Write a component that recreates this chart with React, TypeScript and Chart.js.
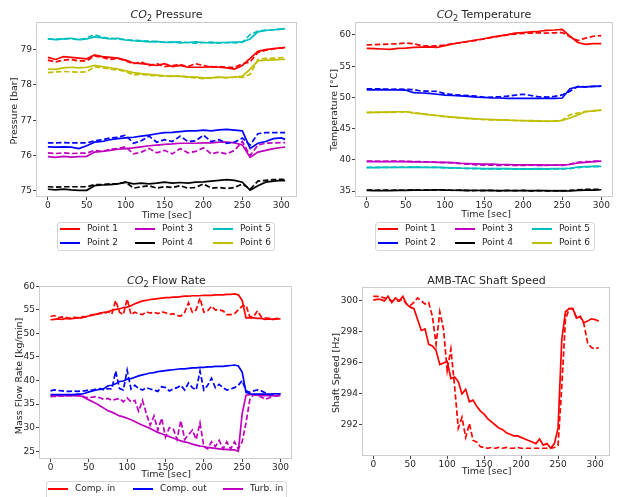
import React, { useEffect, useRef } from "react";
import { Chart, registerables } from "chart.js";
Chart.register(...registerables);

const FONT = "'DejaVu Sans', sans-serif";
const TEXT = "#262626";
const RED = "#ff0000";
const BLUE = "#0000ff";
const MAG = "#bf00bf";
const BLACK = "#000000";
const CYAN = "#00bfbf";
const YEL = "#bfbf00";

// ---------- shared ticks ----------
const timeTicks = [0, 50, 100, 150, 200, 250, 300];
const pressureTicks = [75, 76, 77, 78, 79];
const tempTicks = [35, 40, 45, 50, 55, 60];
const flowTicks = [25, 30, 35, 40, 45, 50, 55, 60];
const speedTicks = [292, 294, 296, 298, 300];

// ---------- CO2 Pressure [bar] ----------
const pressureTime = [0, 10, 20, 30, 40, 50, 60, 70, 80, 90, 100, 110, 120, 130, 140, 150, 160, 170, 180, 190, 200, 210, 220, 230, 240, 250, 260, 270, 280, 290, 300, 305];
const pP1s = [78.78, 78.72, 78.8, 78.78, 78.76, 78.74, 78.85, 78.8, 78.78, 78.76, 78.7, 78.62, 78.6, 78.58, 78.55, 78.6, 78.52, 78.55, 78.5, 78.5, 78.5, 78.52, 78.5, 78.48, 78.45, 78.55, 78.75, 78.95, 79.0, 79.03, 79.05, 79.06];
const pP1d = [78.7, 78.65, 78.7, 78.72, 78.68, 78.68, 78.82, 78.78, 78.72, 78.75, 78.68, 78.6, 78.65, 78.55, 78.6, 78.52, 78.55, 78.58, 78.52, 78.6, 78.55, 78.5, 78.52, 78.5, 78.5, 78.6, 78.65, 78.92, 78.98, 79.02, 79.05, 79.05];
const pP2s = [76.25, 76.24, 76.25, 76.24, 76.2, 76.28, 76.38, 76.4, 76.45, 76.48, 76.5, 76.52, 76.55, 76.58, 76.62, 76.65, 76.66, 76.68, 76.7, 76.7, 76.72, 76.7, 76.73, 76.74, 76.72, 76.7, 76.2, 76.35, 76.4, 76.48, 76.5, 76.46];
const pP2d = [76.36, 76.36, 76.37, 76.36, 76.36, 76.36, 76.42, 76.45, 76.5, 76.52, 76.58, 76.35, 76.42, 76.55, 76.38, 76.45, 76.4, 76.55, 76.4, 76.42, 76.58, 76.4, 76.45, 76.35, 76.38, 76.5, 76.3, 76.62, 76.65, 76.65, 76.65, 76.65];
const pP3s = [75.97, 75.95, 75.98, 75.96, 75.97, 75.98, 76.1, 76.12, 76.15, 76.18, 76.2, 76.22, 76.25, 76.28, 76.3, 76.32, 76.33, 76.35, 76.35, 76.35, 76.36, 76.36, 76.38, 76.38, 76.36, 76.3, 75.95, 76.1, 76.15, 76.2, 76.23, 76.24];
const pP3d = [76.08, 76.06, 76.08, 76.06, 76.07, 76.07, 76.15, 76.12, 76.18, 76.2, 76.25, 76.05, 76.1, 76.2, 76.08, 76.15, 76.05, 76.2, 76.08, 76.12, 76.22, 76.05, 76.1, 76.05, 76.15, 76.4, 76.0, 76.3, 76.35, 76.36, 76.37, 76.37];
const pP4s = [75.05, 75.03, 75.05, 75.03, 75.02, 75.02, 75.15, 75.17, 75.18, 75.2, 75.25, 75.2, 75.22, 75.2, 75.22, 75.25, 75.22, 75.24, 75.22, 75.25, 75.26, 75.28, 75.3, 75.32, 75.3, 75.25, 75.02, 75.15, 75.25, 75.28, 75.3, 75.29];
const pP4d = [75.12, 75.11, 75.12, 75.12, 75.12, 75.12, 75.18, 75.18, 75.2, 75.2, 75.25, 75.08, 75.12, 75.15, 75.08, 75.12, 75.1, 75.15, 75.08, 75.1, 75.2, 75.08, 75.1, 75.07, 75.1, 75.2, 75.05, 75.28, 75.3, 75.32, 75.33, 75.32];
const pP5s = [79.3, 79.28, 79.3, 79.32, 79.28, 79.3, 79.36, 79.33, 79.3, 79.32, 79.27, 79.25, 79.24, 79.22, 79.23, 79.2, 79.22, 79.19, 79.2, 79.22, 79.2, 79.19, 79.2, 79.2, 79.21, 79.22, 79.3, 79.5, 79.54, 79.56, 79.58, 79.59];
const pP5d = [79.3, 79.29, 79.3, 79.31, 79.27, 79.33, 79.42, 79.35, 79.32, 79.3, 79.28, 79.26, 79.25, 79.24, 79.22, 79.21, 79.2, 79.22, 79.2, 79.18, 79.2, 79.21, 79.18, 79.2, 79.19, 79.21, 79.42, 79.52, 79.55, 79.56, 79.58, 79.58];
const pP6s = [78.45, 78.44, 78.48, 78.5, 78.48, 78.5, 78.55, 78.52, 78.48, 78.45, 78.4, 78.35, 78.32, 78.3, 78.28, 78.26, 78.25, 78.24, 78.23, 78.22, 78.2, 78.2, 78.22, 78.21, 78.22, 78.25, 78.45, 78.68, 78.7, 78.71, 78.72, 78.72];
const pP6d = [78.35, 78.37, 78.38, 78.37, 78.36, 78.37, 78.52, 78.48, 78.45, 78.42, 78.38, 78.28, 78.3, 78.27, 78.26, 78.25, 78.24, 78.26, 78.22, 78.2, 78.18, 78.2, 78.22, 78.2, 78.22, 78.21, 78.3, 78.72, 78.75, 78.76, 78.77, 78.77];

// ---------- CO2 Temperature [°C] ----------
const tempTime = [0, 10, 20, 30, 40, 50, 60, 70, 80, 90, 100, 110, 120, 130, 140, 150, 160, 170, 180, 190, 200, 210, 220, 230, 240, 250, 260, 270, 280, 290, 300];
const tP1s = [57.85, 57.8, 57.75, 57.7, 57.85, 57.9, 58.0, 58.05, 58.1, 58.0, 58.3, 58.55, 58.8, 59.0, 59.2, 59.4, 59.65, 59.85, 60.05, 60.3, 60.4, 60.5, 60.6, 60.75, 60.8, 60.9, 59.8, 58.8, 58.5, 58.6, 58.6];
const tP1d = [58.4, 58.45, 58.5, 58.55, 58.6, 58.7, 58.6, 58.3, 58.2, 58.25, 58.4, 58.6, 58.75, 58.95, 59.15, 59.35, 59.6, 59.8, 60.0, 60.15, 60.25, 60.3, 60.35, 60.3, 60.35, 60.4, 59.7, 59.1, 59.5, 59.8, 59.9];
const tP2s = [51.2, 51.2, 51.25, 51.2, 51.2, 51.15, 50.75, 50.7, 50.65, 50.5, 50.35, 50.3, 50.25, 50.15, 50.05, 50.0, 49.9, 49.9, 49.85, 49.85, 49.85, 49.85, 49.85, 49.85, 49.85, 49.9, 51.4, 51.7, 51.7, 51.75, 51.8];
const tP2d = [51.35, 51.35, 51.35, 51.3, 51.35, 51.3, 51.25, 51.0, 51.0, 50.95, 50.6, 50.45, 50.35, 50.3, 50.2, 50.0, 50.05, 50.1, 50.2, 50.35, 50.5, 50.3, 50.1, 50.05, 50.15, 50.4, 51.0, 51.75, 51.7, 51.75, 51.8];
const tP3s = [39.7, 39.7, 39.7, 39.7, 39.72, 39.7, 39.68, 39.65, 39.65, 39.6, 39.6, 39.55, 39.45, 39.4, 39.35, 39.3, 39.3, 39.25, 39.25, 39.2, 39.2, 39.2, 39.2, 39.15, 39.15, 39.2, 39.25, 39.5, 39.6, 39.7, 39.8];
const tP3d = [39.8, 39.8, 39.75, 39.8, 39.78, 39.75, 39.7, 39.7, 39.65, 39.62, 39.55, 39.5, 39.4, 39.3, 39.2, 39.15, 39.15, 39.1, 39.15, 39.1, 39.1, 39.15, 39.1, 39.1, 39.15, 39.1, 39.3, 39.6, 39.7, 39.75, 39.8];
const tP4s = [35.1, 35.05, 35.08, 35.05, 35.1, 35.1, 35.15, 35.12, 35.15, 35.2, 35.15, 35.12, 35.1, 35.1, 35.08, 35.1, 35.05, 35.08, 35.05, 35.08, 35.05, 35.08, 35.05, 35.05, 35.02, 35.05, 35.0, 35.1, 35.15, 35.15, 35.2];
const tP4d = [35.15, 35.12, 35.15, 35.12, 35.15, 35.12, 35.2, 35.15, 35.2, 35.15, 35.2, 35.1, 35.15, 35.05, 35.1, 35.05, 35.12, 35.02, 35.1, 35.05, 35.1, 35.0, 35.08, 35.0, 35.05, 35.02, 35.1, 35.2, 35.25, 35.25, 35.25];
const tP5s = [38.8, 38.75, 38.78, 38.8, 38.8, 38.8, 38.82, 38.8, 38.8, 38.78, 38.75, 38.7, 38.65, 38.65, 38.62, 38.6, 38.6, 38.58, 38.58, 38.55, 38.55, 38.55, 38.58, 38.55, 38.58, 38.6, 38.65, 38.85, 38.9, 38.95, 38.95];
const tP5d = [38.75, 38.78, 38.8, 38.78, 38.82, 38.8, 38.85, 38.82, 38.78, 38.8, 38.72, 38.68, 38.66, 38.6, 38.58, 38.55, 38.55, 38.52, 38.55, 38.52, 38.5, 38.52, 38.5, 38.52, 38.55, 38.55, 38.6, 38.75, 38.85, 38.9, 38.95];
const tP6s = [47.6, 47.6, 47.65, 47.65, 47.7, 47.7, 47.5, 47.35, 47.2, 47.1, 46.95, 46.85, 46.75, 46.65, 46.55, 46.5, 46.45, 46.4, 46.35, 46.3, 46.3, 46.25, 46.2, 46.2, 46.2, 46.3, 46.7, 47.2, 47.7, 47.85, 47.95];
const tP6d = [47.55, 47.6, 47.6, 47.6, 47.65, 47.7, 47.55, 47.4, 47.25, 47.05, 46.9, 46.8, 46.7, 46.6, 46.55, 46.45, 46.4, 46.35, 46.35, 46.3, 46.25, 46.3, 46.25, 46.15, 46.2, 46.35, 47.2, 47.5, 47.75, 47.85, 47.95];

// ---------- CO2 Flow Rate [kg/min] ----------
const flowTime = [0, 5, 10, 15, 20, 25, 30, 35, 40, 45, 50, 55, 60, 65, 70, 75, 80, 85, 90, 95, 100, 105, 110, 115, 120, 125, 130, 135, 140, 145, 150, 155, 160, 165, 170, 175, 180, 185, 190, 195, 200, 205, 210, 215, 220, 225, 230, 235, 240, 245, 250, 255, 260, 265, 270, 275, 280, 285, 290, 295, 300];
const fCompInS = [52.9, 53.0, 53.1, 53.0, 53.2, 53.1, 53.2, 53.3, 53.3, 53.5, 53.7, 53.9, 54.1, 54.3, 54.5, 54.6, 54.9, 55.1, 55.2, 55.5, 55.6, 55.9, 56.3, 56.6, 56.9, 57.0, 57.2, 57.3, 57.4, 57.5, 57.6, 57.6, 57.7, 57.7, 57.8, 57.9, 57.9, 58.0, 58.0, 58.0, 58.1, 58.1, 58.1, 58.2, 58.2, 58.2, 58.3, 58.3, 58.4, 58.2, 57.0, 53.3, 53.3, 53.3, 53.2, 53.2, 53.0, 53.1, 53.0, 53.1, 53.1];
const fCompInD = [53.6, 53.8, 53.3, 53.5, 53.4, 53.2, 53.5, 53.3, 53.6, 53.5, 53.8, 54.0, 54.0, 54.3, 54.2, 54.6, 54.1, 57.0, 54.5, 54.0, 57.3, 54.0, 54.5, 54.2, 54.0, 54.6, 54.3, 54.5, 54.2, 54.6, 54.4, 54.0, 54.2, 53.8, 53.7, 54.5, 56.5, 54.5, 55.0, 57.5, 54.5, 54.8, 55.8, 55.0, 55.0, 54.8, 54.0, 54.0, 54.2, 55.0, 55.8, 56.0, 53.5, 53.6, 54.8, 53.5, 53.3, 53.2, 53.0, 53.2, 53.2];
const fCompOutS = [37.0, 37.0, 37.0, 37.0, 37.0, 37.0, 37.0, 37.1, 37.1, 37.3, 37.6, 37.8, 38.0, 38.1, 38.3, 38.9, 39.0, 39.3, 39.8, 39.9, 40.3, 40.4, 40.7, 41.0, 41.2, 41.4, 41.6, 41.7, 41.9, 42.0, 42.1, 42.2, 42.3, 42.4, 42.5, 42.5, 42.6, 42.7, 42.7, 42.8, 42.8, 42.9, 42.9, 43.0, 43.0, 43.0, 43.1, 43.2, 43.3, 43.1, 41.8, 37.5, 37.2, 37.1, 37.1, 37.1, 37.1, 37.1, 37.2, 37.2, 37.2];
const fCompOutD = [37.8, 38.0, 37.9, 37.8, 37.7, 37.7, 37.8, 37.7, 37.8, 37.8, 38.0, 38.0, 38.2, 38.3, 38.0, 38.3, 38.2, 42.0, 38.3, 38.0, 42.2, 38.2, 39.0, 38.3, 38.0, 38.5, 38.2, 38.0, 37.7, 38.7, 38.5, 37.8, 38.2, 38.5, 39.0, 38.0, 39.5, 38.5, 38.0, 42.0, 38.0, 39.0, 40.5, 38.5, 39.2, 38.5, 38.0, 38.2, 38.5, 39.0, 40.0, 37.8, 37.5, 37.8, 38.0, 37.8, 37.4, 37.0, 37.0, 37.2, 37.2];
const fTurbInS = [36.8, 36.8, 36.8, 36.8, 36.8, 36.8, 36.8, 36.8, 36.7, 36.3, 35.9, 35.5, 35.1, 34.6, 34.1, 33.6, 33.3, 32.9, 32.5, 32.3, 32.0, 31.7, 31.3, 30.9, 30.5, 30.2, 29.8, 29.4, 29.0, 28.7, 28.4, 28.1, 27.8, 27.5, 27.2, 27.0, 26.8, 26.5, 26.3, 26.1, 26.0, 25.8, 25.7, 25.6, 25.5, 25.4, 25.4, 25.3, 25.3, 25.0, 33.0, 36.9, 37.0, 37.0, 36.9, 36.8, 36.8, 36.8, 36.8, 36.8, 36.8];
const fTurbInD = [36.6, 36.7, 36.6, 36.8, 36.7, 36.8, 36.8, 36.8, 36.8, 36.5, 36.3, 36.5, 36.6, 36.3, 36.0, 36.2, 35.8, 36.0, 36.2, 35.5, 36.3, 35.5, 35.8, 33.5, 35.8, 33.0, 30.5, 32.5, 29.5, 32.0, 28.0, 30.0, 29.8, 27.5, 31.5, 27.5, 28.5, 29.5, 27.5, 31.0, 26.0, 25.5, 27.0, 26.0, 27.3, 25.5, 27.0, 25.5, 27.0, 25.5, 27.0, 31.0, 36.0, 37.0, 36.8, 36.5, 36.0, 36.3, 36.8, 36.7, 36.8];

// ---------- AMB-TAC Shaft Speed [Hz] ----------
const speedTime = [0, 5, 10, 15, 20, 25, 30, 35, 40, 45, 50, 55, 60, 65, 70, 75, 80, 85, 90, 95, 100, 105, 110, 115, 120, 125, 130, 135, 140, 145, 150, 155, 160, 165, 170, 175, 180, 185, 190, 195, 200, 205, 210, 215, 220, 225, 230, 235, 240, 245, 250, 255, 260, 265, 270, 275, 280, 285, 290, 295, 300, 305];
const speedSolid = [300.05, 300.1, 300.1, 300.0, 300.3, 299.9, 300.2, 300.0, 300.3, 299.8, 299.6, 299.5, 298.8, 298.1, 298.2, 297.2, 297.1, 296.8, 295.9, 296.0, 296.1, 295.0, 295.1, 294.8, 294.0, 294.3, 293.5, 293.6, 293.2, 292.9, 292.7, 292.4, 292.2, 292.0, 291.8, 291.7, 291.5, 291.4, 291.3, 291.3, 291.2, 291.1, 291.0, 290.9, 290.8, 291.1, 290.7, 290.8, 290.5, 290.8, 291.8, 297.5, 299.3, 299.5, 299.5, 298.9, 299.0, 298.6, 298.7, 298.85, 298.8, 298.7];
const speedDashed = [300.3, 300.3, 300.25, 300.2, 300.1, 300.0, 300.0, 300.0, 300.1, 299.8, 299.7, 299.9, 300.2, 300.0, 299.8, 299.9, 299.0, 297.2, 299.3, 298.2, 295.5, 296.9, 294.5, 291.8, 292.5, 291.2, 292.1, 291.0, 290.9, 290.6, 290.55, 290.5, 290.55, 290.5, 290.55, 290.5, 290.55, 290.5, 290.5, 290.55, 290.5, 290.5, 290.5, 290.5, 290.5, 290.5, 290.5, 290.5, 290.5, 290.55, 290.7, 294.5, 298.8, 299.5, 299.5, 298.9, 299.0, 298.5, 297.3, 297.0, 296.9, 297.0];

type Series = { color: string; dashed: boolean; x: number[]; y: number[] };
type Box = { L: number; T: number; R: number; B: number };

const pts = (x: number[], y: number[]) => x.map((t, i) => ({ x: t, y: y[i] }));

const framePlugin = {
  id: "frame",
  afterDatasetsDraw(chart: any) {
    const { ctx, chartArea: a } = chart;
    ctx.save();
    ctx.strokeStyle = "#cccccc";
    ctx.lineWidth = 1;
    ctx.strokeRect(a.left + 0.5, a.top + 0.5, a.right - a.left - 1, a.bottom - a.top - 1);
    ctx.restore();
  },
};

const YW = 34;
const PT = 10;
const PR = 8;
const XH = 22;

function Panel(props: { box: Box; xr: number[]; yr: number[]; yTicks: number[]; series: Series[] }) {
  const { box, xr, yr, yTicks, series } = props;
  const ref = useRef<HTMLCanvasElement>(null);
  const left = box.L - YW;
  const top = box.T - PT;
  const width = YW + (box.R - box.L) + PR;
  const height = PT + (box.B - box.T) + XH;
  useEffect(() => {
    const tickFont = { family: FONT, size: 9 };
    const grid = { display: true, drawOnChartArea: false, drawTicks: true, tickLength: 3, color: "#444", lineWidth: 1 };
    const chart = new Chart(ref.current as HTMLCanvasElement, {
      type: "line",
      data: {
        datasets: series.map((s) => ({
          data: pts(s.x, s.y),
          borderColor: s.color,
          backgroundColor: s.color,
          borderWidth: 1.7,
          borderDash: s.dashed ? [5.5, 2.6] : [],
          pointRadius: 0,
          fill: false,
          tension: 0,
        })),
      },
      options: {
        animation: false,
        responsive: false,
        maintainAspectRatio: false,
        layout: { padding: { top: PT, right: PR, left: 0, bottom: 0 } },
        plugins: { legend: { display: false }, tooltip: { enabled: false }, title: { display: false } },
        scales: {
          x: {
            type: "linear",
            min: xr[0],
            max: xr[1],
            afterBuildTicks: (s: any) => {
              s.ticks = timeTicks.map((v) => ({ value: v }));
            },
            afterFit: (s: any) => {
              s.height = XH;
            },
            grid,
            border: { display: false },
            ticks: { font: tickFont, color: TEXT, padding: 0, autoSkip: false, maxRotation: 0 },
          },
          y: {
            type: "linear",
            min: yr[0],
            max: yr[1],
            afterBuildTicks: (s: any) => {
              s.ticks = yTicks.map((v) => ({ value: v }));
            },
            afterFit: (s: any) => {
              s.width = YW;
            },
            grid,
            border: { display: false },
            ticks: { font: tickFont, color: TEXT, padding: 1, autoSkip: false },
          },
        },
      } as any,
      plugins: [framePlugin],
    });
    return () => chart.destroy();
  }, []);
  return <canvas ref={ref} width={width} height={height} style={{ position: "absolute", left, top, width, height }} />;
}

function Txt(props: { x: number; y: number; size: number; rotate?: boolean; children: React.ReactNode }) {
  const { x, y, size, rotate, children } = props;
  return (
    <div
      style={{
        position: "absolute",
        left: x,
        top: y,
        transform: `translate(-50%, -50%)${rotate ? " rotate(-90deg)" : ""}`,
        fontFamily: FONT,
        fontSize: size,
        color: TEXT,
        whiteSpace: "nowrap",
        lineHeight: 1.1,
      }}
    >
      {children}
    </div>
  );
}

function CO2() {
  return (
    <>
      <span style={{ fontStyle: "italic" }}>CO</span>
      <span style={{ fontSize: 8, position: "relative", top: 3 }}>2</span>
    </>
  );
}

type LegItem = { label: string; color: string; x: number; y: number };
function Legend(props: { left: number; top: number; width: number; height: number; items: LegItem[] }) {
  const { left, top, width, height, items } = props;
  return (
    <>
      <div
        style={{
          position: "absolute",
          left,
          top,
          width,
          height,
          border: "1px solid #d6d6d6",
          borderRadius: 3,
          background: "#fff",
          boxSizing: "border-box",
        }}
      />
      {items.map((it) => (
        <React.Fragment key={it.label}>
          <div style={{ position: "absolute", left: it.x, top: it.y - 1, width: 20, height: 2, background: it.color }} />
          <div
            style={{
              position: "absolute",
              left: it.x + 27,
              top: it.y,
              transform: "translateY(-50%)",
              fontFamily: FONT,
              fontSize: 9,
              color: TEXT,
              whiteSpace: "nowrap",
              lineHeight: 1.1,
            }}
          >
            {it.label}
          </div>
        </React.Fragment>
      ))}
    </>
  );
}

const pressureSeries: Series[] = [
  { color: RED, dashed: false, x: pressureTime, y: pP1s },
  { color: RED, dashed: true, x: pressureTime, y: pP1d },
  { color: BLUE, dashed: false, x: pressureTime, y: pP2s },
  { color: BLUE, dashed: true, x: pressureTime, y: pP2d },
  { color: MAG, dashed: false, x: pressureTime, y: pP3s },
  { color: MAG, dashed: true, x: pressureTime, y: pP3d },
  { color: BLACK, dashed: false, x: pressureTime, y: pP4s },
  { color: BLACK, dashed: true, x: pressureTime, y: pP4d },
  { color: CYAN, dashed: false, x: pressureTime, y: pP5s },
  { color: CYAN, dashed: true, x: pressureTime, y: pP5d },
  { color: YEL, dashed: false, x: pressureTime, y: pP6s },
  { color: YEL, dashed: true, x: pressureTime, y: pP6d },
];
const tempSeries: Series[] = [
  { color: RED, dashed: false, x: tempTime, y: tP1s },
  { color: RED, dashed: true, x: tempTime, y: tP1d },
  { color: BLUE, dashed: false, x: tempTime, y: tP2s },
  { color: BLUE, dashed: true, x: tempTime, y: tP2d },
  { color: MAG, dashed: false, x: tempTime, y: tP3s },
  { color: MAG, dashed: true, x: tempTime, y: tP3d },
  { color: BLACK, dashed: false, x: tempTime, y: tP4s },
  { color: BLACK, dashed: true, x: tempTime, y: tP4d },
  { color: CYAN, dashed: false, x: tempTime, y: tP5s },
  { color: CYAN, dashed: true, x: tempTime, y: tP5d },
  { color: YEL, dashed: false, x: tempTime, y: tP6s },
  { color: YEL, dashed: true, x: tempTime, y: tP6d },
];
const flowSeries: Series[] = [
  { color: RED, dashed: false, x: flowTime, y: fCompInS },
  { color: RED, dashed: true, x: flowTime, y: fCompInD },
  { color: BLUE, dashed: false, x: flowTime, y: fCompOutS },
  { color: BLUE, dashed: true, x: flowTime, y: fCompOutD },
  { color: MAG, dashed: false, x: flowTime, y: fTurbInS },
  { color: MAG, dashed: true, x: flowTime, y: fTurbInD },
];
const speedSeries: Series[] = [
  { color: RED, dashed: false, x: speedTime, y: speedSolid },
  { color: RED, dashed: true, x: speedTime, y: speedDashed },
];

const pointLabels = ["Point 1", "Point 2", "Point 3", "Point 4", "Point 5", "Point 6"];
const pointColors = [RED, BLUE, MAG, BLACK, CYAN, YEL];
const flowLabels = ["Comp. in", "Comp. out", "Turb. in"];
const flowColors = [RED, BLUE, MAG];

export default function App() {
  const boxA = { L: 36, T: 22, R: 297, B: 197 };
  const boxB = { L: 355, T: 22, R: 613, B: 197 };
  const boxC = { L: 39, T: 286, R: 292, B: 459 };
  const boxD = { L: 362, T: 287, R: 610, B: 456 };

  const legA: LegItem[] = pointLabels.map((l, i) => ({
    label: l,
    color: pointColors[i],
    x: [60, 135, 213][Math.floor(i / 2)],
    y: i % 2 === 0 ? 229.3 : 242.5,
  }));
  const legB: LegItem[] = pointLabels.map((l, i) => ({
    label: l,
    color: pointColors[i],
    x: [378, 455, 532][Math.floor(i / 2)],
    y: i % 2 === 0 ? 229.3 : 242.5,
  }));
  const legC: LegItem[] = flowLabels.map((l, i) => ({
    label: l,
    color: flowColors[i],
    x: [48, 133, 223][i],
    y: 488.5,
  }));

  return (
    <div style={{ position: "absolute", left: 0, top: 0, width: 621, height: 497, background: "#fff", overflow: "hidden" }}>
      <Panel box={boxA} xr={[-15.25, 320.25]} yr={[74.83, 79.78]} yTicks={pressureTicks} series={pressureSeries} />
      <Panel box={boxB} xr={[-15, 315]} yr={[34.04, 62.08]} yTicks={tempTicks} series={tempSeries} />
      <Panel box={boxC} xr={[-15, 315]} yr={[23.35, 60.07]} yTicks={flowTicks} series={flowSeries} />
      <Panel box={boxD} xr={[-15.25, 320.25]} yr={[290.0, 300.9]} yTicks={speedTicks} series={speedSeries} />

      <Txt x={166.5} y={15} size={11}>
        <CO2 /> Pressure
      </Txt>
      <Txt x={484} y={15} size={11}>
        <CO2 /> Temperature
      </Txt>
      <Txt x={166.5} y={280.5} size={11}>
        <CO2 /> Flow Rate
      </Txt>
      <Txt x={486.5} y={280.5} size={11}>
        AMB-TAC Shaft Speed
      </Txt>

      <Txt x={166.5} y={215} size={9.5}>Time [sec]</Txt>
      <Txt x={486} y={214} size={9.5}>Time [sec]</Txt>
      <Txt x={166} y={474} size={9.5}>Time [sec]</Txt>
      <Txt x={486.5} y={471} size={9.5}>Time [sec]</Txt>

      <Txt x={14} y={110.5} size={9.5} rotate>Pressure [bar]</Txt>
      <Txt x={334} y={110} size={9.5} rotate>Temperature [°C]</Txt>
      <Txt x={18.5} y={376} size={9.5} rotate>Mass Flow Rate [kg/min]</Txt>
      <Txt x={335.5} y={373} size={9.5} rotate>Shaft Speed [Hz]</Txt>

      <Legend left={57} top={222} width={218} height={29} items={legA} />
      <Legend left={375} top={222} width={220} height={29} items={legB} />
      <Legend left={46} top={481} width={241} height={24} items={legC} />
    </div>
  );
}
